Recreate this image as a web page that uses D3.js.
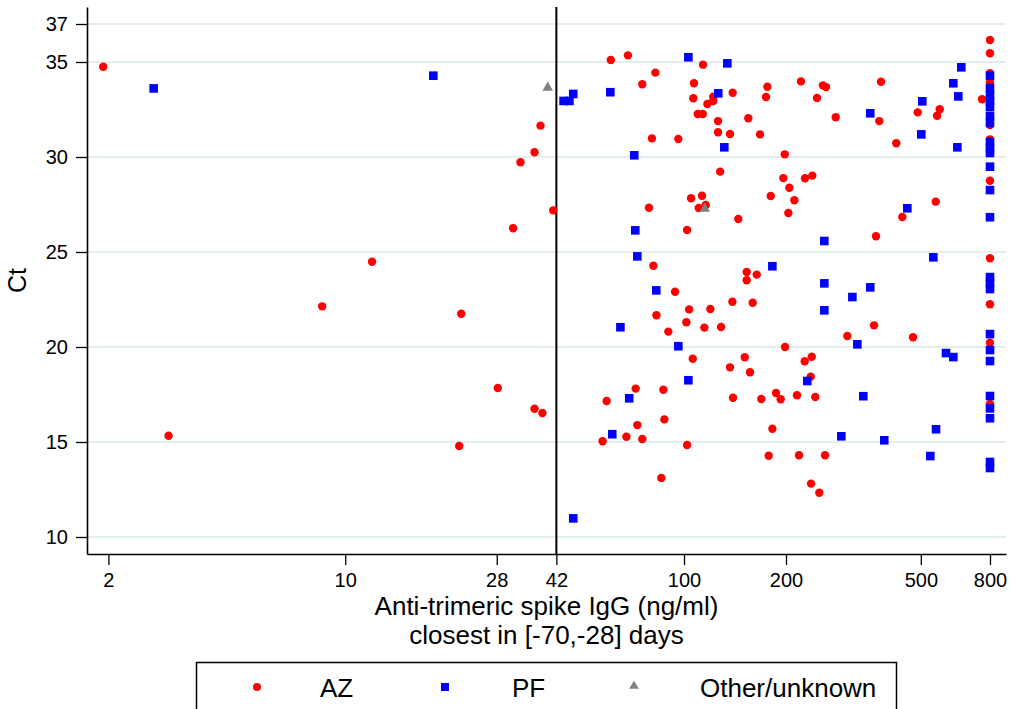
<!DOCTYPE html>
<html>
<head>
<meta charset="utf-8">
<script src="https://cdn.jsdelivr.net/npm/d3@7"></script>
<style>
body { margin: 0; background: #fff; }
svg { display: block; font-family: 'Liberation Sans', Arial, sans-serif; }
</style>
</head>
<body>
<div id="chart"></div>
<script>
let width = 1011;
let height = 709;

// [IgG ng/ml, Ct]
let azPoints = [
  [1.93, 34.75], [3.01, 15.33], [8.55, 22.14], [12.0, 24.49], [21.7, 14.79], [22.0, 21.75],
  [28.2, 17.84], [31.3, 26.25], [32.9, 29.72], [36.2, 30.25], [36.2, 16.75], [37.7, 31.65],
  [38.2, 16.53], [41.1, 27.19],
  [60.8, 35.11], [68.3, 35.35], [82.3, 34.44], [75.3, 33.83], [113.8, 34.86], [107.0, 33.88],
  [106.5, 33.09], [122, 33.17], [122, 32.95], [117.2, 32.79], [109.8, 32.26], [113.6, 32.26],
  [139.2, 33.38], [126, 31.89], [126, 31.30], [136.7, 31.21], [154.8, 32.04], [167.6, 31.19],
  [176.2, 33.70], [174.6, 33.16], [221.4, 33.98], [257, 33.77], [262.5, 33.68], [246.9, 33.11],
  [280.4, 32.09], [381.4, 33.96], [377, 31.89], [423.2, 30.72], [489.5, 32.35], [568.5, 32.51],
  [558.2, 32.17], [758, 33.04],
  [800, 36.16], [800, 35.46], [800, 34.41], [800, 33.93], [800, 31.68], [800, 30.93], [800, 28.75],
  [80.4, 30.98], [96.2, 30.95], [198.3, 30.14], [127.8, 29.23], [196.4, 28.89], [204.6, 28.38],
  [227.6, 28.88], [239.2, 29.02], [104.9, 27.83], [113, 27.96], [115.9, 27.47], [110.5, 27.32],
  [78.8, 27.33], [180.3, 27.95], [211.7, 27.72], [203.2, 27.05], [144.6, 26.74], [553.3, 27.65],
  [441, 26.84], [368.7, 25.83], [102.1, 26.16], [81.2, 24.28], [94.1, 22.91], [153.1, 23.95],
  [153.1, 23.51], [163.9, 23.81], [138.9, 22.38], [159.5, 22.33], [103.5, 21.98], [119.6, 22.0],
  [82.9, 21.67], [101.6, 21.30], [114.8, 21.02], [128.6, 21.05], [89.9, 20.81], [198.7, 20.0],
  [106.1, 19.38], [151.1, 19.46], [227.1, 19.25], [238.2, 19.49], [136.7, 18.93], [156.6, 18.67],
  [236.6, 18.44], [303.4, 20.58], [363.8, 21.14], [474.1, 20.51], [72, 17.81], [59.1, 17.16],
  [86.9, 17.75], [139.5, 17.33], [169.1, 17.26], [186.9, 17.58], [192.9, 17.25], [215.5, 17.46],
  [244, 17.37], [72.8, 15.89], [87.5, 16.19], [67.6, 15.28], [75.3, 15.16], [57.5, 15.04],
  [102.1, 14.84], [182.3, 15.70], [177.8, 14.28], [218.5, 14.30], [260.8, 14.30], [85.7, 13.11],
  [237.1, 12.81], [250.8, 12.33],
  [800, 24.67], [800, 22.25], [800, 20.23], [800, 17.0]
];

let pfPoints = [
  [2.72, 33.61], [18.2, 34.28], [44.1, 32.95], [45.9, 32.95], [47.1, 33.32], [60.6, 33.41],
  [103, 35.25], [134.2, 34.93], [126.2, 33.35], [71.3, 30.09], [131.5, 30.51], [71.8, 26.14],
  [72.8, 24.77], [82.8, 22.98], [182.3, 24.25], [259.5, 25.58], [259.5, 23.35], [314, 22.63],
  [354.6, 23.14], [354.6, 32.30], [505, 32.93], [501.6, 31.19], [658.3, 34.72], [623.6, 33.88],
  [645.1, 33.19], [640.8, 30.51], [544.4, 24.72], [456.2, 27.30], [64.9, 21.04], [96.2, 20.04],
  [103, 18.25], [68.9, 17.30], [61.4, 15.41], [47.1, 10.98], [259.5, 21.93], [324.8, 20.14],
  [231.1, 18.21], [338.2, 17.41], [291.3, 15.30], [390, 15.09], [554.4, 15.67], [533.4, 14.26],
  [593.3, 19.68], [623.6, 19.47],
  [800, 34.28], [800, 33.63], [800, 33.26], [800, 32.95], [800, 32.63], [800, 32.16],
  [800, 31.79], [800, 30.79], [800, 30.47], [800, 30.21], [800, 29.49], [800, 28.26],
  [800, 26.83], [800, 23.68], [800, 23.37], [800, 23.05], [800, 20.68], [800, 19.84],
  [800, 19.26], [800, 17.42], [800, 16.77], [800, 16.25], [800, 13.95], [800, 13.63]
];

let otherPoints = [[39.6, 33.65], [115.1, 27.28]];

let xTicks = [2, 10, 28, 42, 100, 200, 500, 800];
let yTicks = [10, 15, 20, 25, 30, 35, 37];
let cutoff = 42;
let legendLabels = ['AZ', 'PF', 'Other/unknown'];

let svg = d3.select('#chart')
  .append('svg')
  .attr('width', width)
  .attr('height', height);

let x = d3.scaleLog()
  .domain([1.729, 892])
  .range([87, 1006]);

let y = d3.scaleLinear()
  .domain([9.105, 37.895])
  .range([554, 7]);

// grid
svg.append('g')
  .selectAll('line')
  .data(yTicks)
  .enter()
  .append('line')
  .attr('x1', x.range()[0])
  .attr('x2', x.range()[1])
  .attr('y1', function(d) { return y(d); })
  .attr('y2', function(d) { return y(d); })
  .attr('stroke', '#e4edf0')
  .attr('stroke-width', 2);

let xAxis = svg.append('g')
  .attr('transform', 'translate(0,' + y.range()[0] + ')')
  .call(d3.axisBottom(x)
    .tickValues(xTicks)
    .tickFormat(d3.format('d'))
    .tickSize(11)
    .tickSizeOuter(0)
    .tickPadding(8));

let yAxis = svg.append('g')
  .attr('transform', 'translate(' + x.range()[0] + ',0)')
  .call(d3.axisLeft(y)
    .tickValues(yTicks)
    .tickSize(11)
    .tickSizeOuter(0)
    .tickPadding(8));

[xAxis, yAxis].forEach(function(g) {
  g.selectAll('text')
    .style('font-size', '20px')
    .style('font-family', "'Liberation Sans', Arial, sans-serif")
    .attr('fill', '#000');
  g.selectAll('line').attr('stroke', '#000').attr('stroke-width', 1.3);
  g.select('.domain').attr('stroke', '#000').attr('stroke-width', 1.6);
});

// vertical reference line at 42
svg.append('line')
  .attr('x1', x(cutoff))
  .attr('x2', x(cutoff))
  .attr('y1', y.range()[1])
  .attr('y2', y.range()[0])
  .attr('stroke', '#000')
  .attr('stroke-width', 2);

// points
svg.append('g')
  .selectAll('circle')
  .data(azPoints)
  .enter()
  .append('circle')
  .attr('cx', function(d) { return x(d[0]); })
  .attr('cy', function(d) { return y(d[1]); })
  .attr('r', 4.2)
  .attr('fill', '#ff0000');

let sq = 8.6;
svg.append('g')
  .selectAll('rect')
  .data(pfPoints)
  .enter()
  .append('rect')
  .attr('x', function(d) { return x(d[0]) - sq / 2; })
  .attr('y', function(d) { return y(d[1]) - sq / 2; })
  .attr('width', sq)
  .attr('height', sq)
  .attr('fill', '#0000ff');

let tri = d3.symbol().type(d3.symbolTriangle).size(48);
svg.append('g')
  .selectAll('path')
  .data(otherPoints)
  .enter()
  .append('path')
  .attr('d', tri)
  .attr('transform', function(d) { return 'translate(' + x(d[0]) + ',' + y(d[1]) + ')'; })
  .attr('fill', '#808080');

// axis titles
svg.append('text')
  .attr('x', (x.range()[0] + x.range()[1]) / 2)
  .attr('y', 615)
  .attr('text-anchor', 'middle')
  .style('font-size', '26px')
  .text('Anti-trimeric spike IgG (ng/ml)');

svg.append('text')
  .attr('x', (x.range()[0] + x.range()[1]) / 2)
  .attr('y', 644)
  .attr('text-anchor', 'middle')
  .style('font-size', '26px')
  .text('closest in [-70,-28] days');

svg.append('text')
  .attr('transform', 'translate(26,' + ((y.range()[0] + y.range()[1]) / 2) + ') rotate(-90)')
  .attr('text-anchor', 'middle')
  .style('font-size', '25px')
  .text('Ct');

// legend
let legend = svg.append('g').attr('class', 'legend');

legend.append('rect')
  .attr('x', 196.5)
  .attr('y', 662.5)
  .attr('width', 700)
  .attr('height', 60)
  .attr('fill', 'none')
  .attr('stroke', '#000')
  .attr('stroke-width', 1.5);

let markerX = [257, 445, 634];
let labelX = [320, 512, 700];

legend.append('circle')
  .attr('cx', markerX[0])
  .attr('cy', 687)
  .attr('r', 4)
  .attr('fill', '#ff0000');

legend.append('rect')
  .attr('x', markerX[1] - 4)
  .attr('y', 683)
  .attr('width', 8)
  .attr('height', 8)
  .attr('fill', '#0000ff');

legend.append('path')
  .attr('d', d3.symbol().type(d3.symbolTriangle).size(40))
  .attr('transform', 'translate(' + markerX[2] + ',686)')
  .attr('fill', '#808080');

legend.selectAll('text.lab')
  .data(legendLabels)
  .enter()
  .append('text')
  .attr('class', 'lab')
  .attr('x', function(d, i) { return labelX[i]; })
  .attr('y', 697)
  .style('font-size', '26px')
  .text(function(d) { return d; });
</script>
</body>
</html>
